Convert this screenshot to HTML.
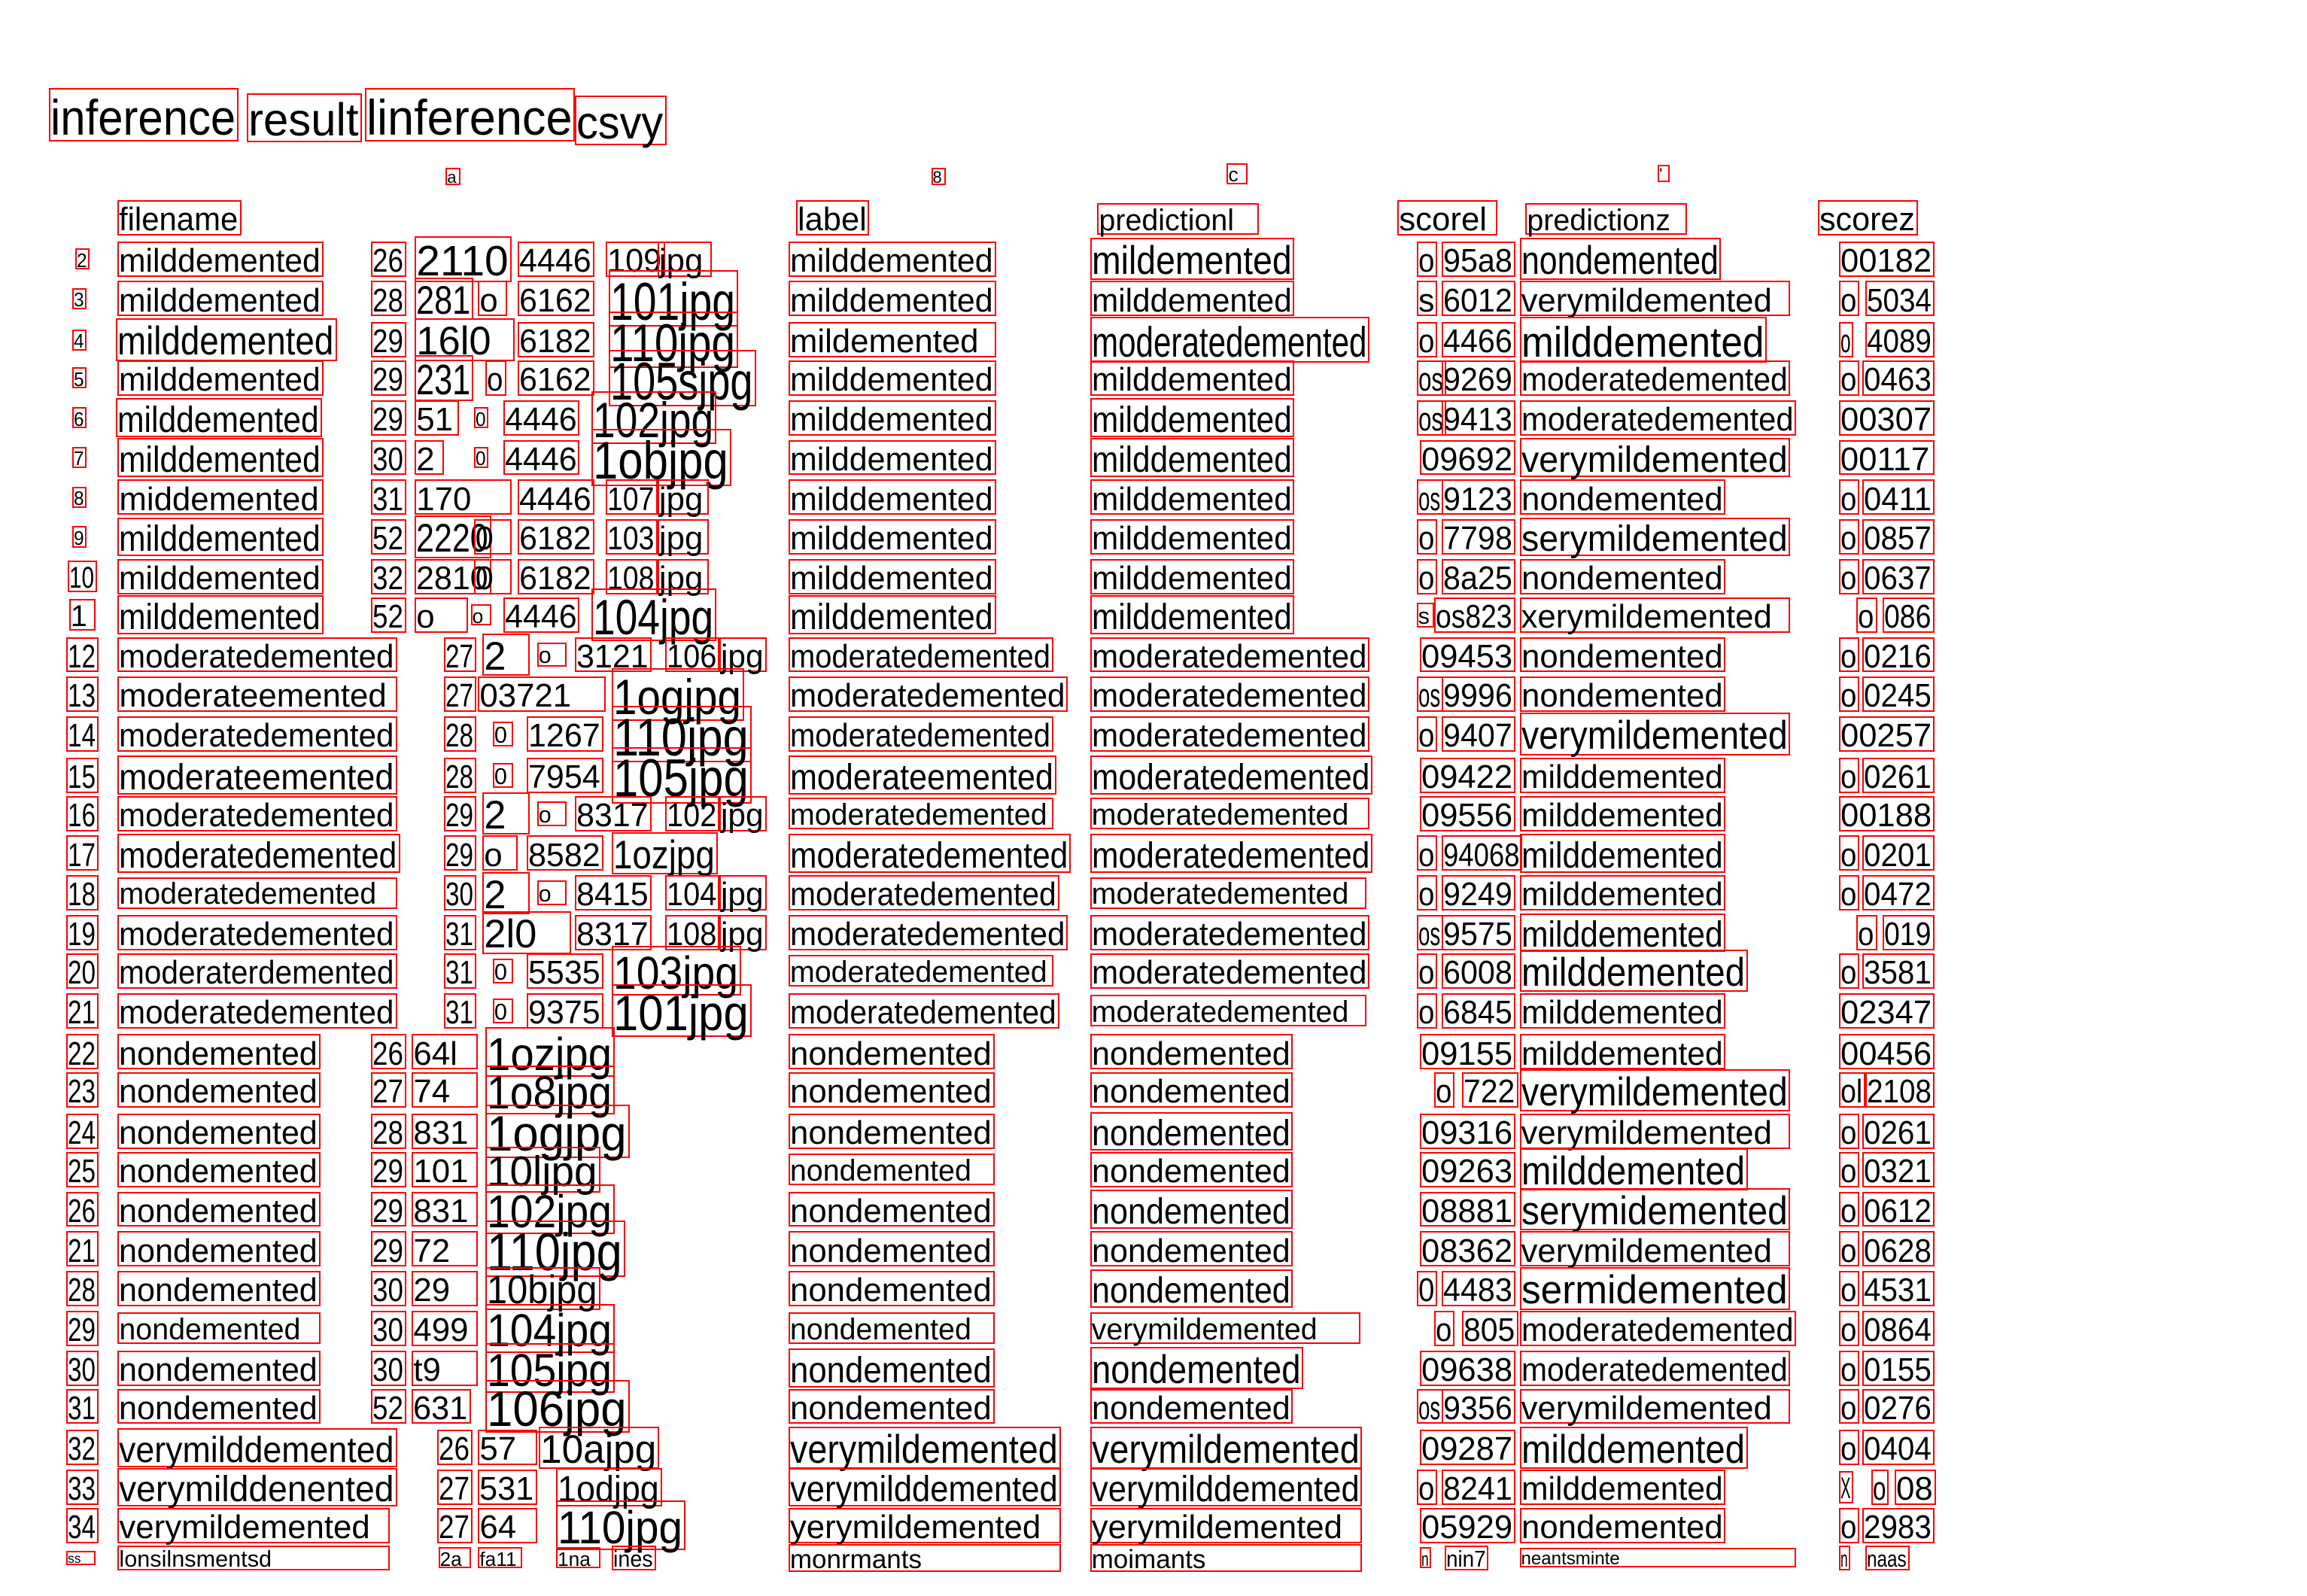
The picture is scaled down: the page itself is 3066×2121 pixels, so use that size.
<!DOCTYPE html>
<html><head><meta charset="utf-8">
<style>
html,body{margin:0;padding:0;background:#fff;}
body{width:3066px;height:2121px;position:relative;overflow:hidden;font-family:"Liberation Sans",sans-serif;}
.b{position:absolute;border:2px solid #ff0000;box-sizing:border-box;}
.t{position:absolute;white-space:nowrap;color:#000;transform-origin:0 0;line-height:1;}
</style></head>
<body>
<script>
const S = 1.955;
const header = [
 ["inference|33|129|30",78],["result|168|78|28",80],["linference|248|143|30",78],["csvy|391|62|28",82],
 ["a|303|10|10",120],["8|633|10|10",120],["c|834|14|12",118],["'|1127|8|10",118],
 ["filename|80|84|20",148],["label|541|50|20",148],["predictionl|746|110|18",149],["scorel|950|68|20",148],["predictionz|1037|110|18",149],["scorez|1236|68|20",148]
];
const rows = [
 [176,"2|51|10|12","milddemented|80|140","26|252|24","2110|282|66|26","4446|352|52","109|412|40","jpg|447|37","milddemented|536|141","mildemented|741|139|24","o|963|14","95a8|980|50","nondemented|1033|137|24","00182|1250|65"],
 [203,"3|49|10|12","milddemented|80|140","28|252|24","281|282|40|24","o|325|20","6162|352|52","101jpg|414|88|32","milddemented|536|141","milddemented|741|139","s|963|14","6012|980|50","verymildemented|1033|184","o|1250|14","5034|1268|47"],
 [231,"4|49|10|12","milddemented|79|150|24","29|252|24","16l0|282|68|24","6182|352|52","110jpg|414|88|32","mildemented|536|141","moderatedemented|741|190|26","o|963|14","4466|980|50","milddemented|1033|168|26","o|1250|10","4089|1268|47"],
 [257,"5|49|10|12","milddemented|80|140","29|252|24","231|282|40|26","o|330|14","6162|352|52","105sjpg|414|100|32","milddemented|536|141","milddemented|741|139","os|963|20","9269|980|50","moderatedemented|1033|184","o|1250|14","0463|1266|49"],
 [284,"6|49|10|12","milddemented|79|140|22","29|252|24","51|282|30","0|322|10|12","4446|342|52","102jpg|402|85|30","milddemented|536|141","milddemented|741|139|22","os|963|20","9413|980|50","moderatedemented|1033|188","00307|1250|65"],
 [311,"7|49|10|12","milddemented|80|140|22","30|252|24","2|282|20","0|322|10|12","4446|342|52","1objpg|402|95|32","milddemented|536|141","milddemented|741|139|22","09692|965|65","verymildemented|1033|184|22","00117|1250|65"],
 [338,"8|49|10|12","middemented|80|140","31|252|24","170|282|66","4446|352|52","107|412|35","jpg|447|35","milddemented|536|141","milddemented|741|139","os|963|18","9123|980|50","nondemented|1033|140","o|1250|14","0411|1266|49"],
 [365,"9|49|10|12","milddemented|80|140|22","52|252|24","2220|282|52|24","0|322|26","6182|352|52","103|412|35","jpg|447|35","milddemented|536|141","milddemented|741|139","o|963|14","7798|980|50","serymildemented|1033|184|22","o|1250|14","0857|1266|49"],
 [392,"10|46|20|18","milddemented|80|140","32|252|24","2810|282|52","0|322|26","6182|352|52","108|412|35","jpg|447|35","milddemented|536|141","milddemented|741|139","o|963|14","8a25|980|50","nondemented|1033|140","o|1250|14","0637|1266|49"],
 [418,"1|47|18|18","milddemented|80|140|22","52|252|24","o|282|36","o|320|14|12","4446|342|52","104jpg|402|85|30","milddemented|536|141|22","milddemented|741|139|22","s|963|12|14","os823|975|55","xerymildemented|1033|184","o|1262|14","086|1280|35"],
 [445,"12|45|22","moderatedemented|80|190","27|302|22","2|328|32|24","o|365|20|14","3121|391|52","106|452|37","jpg|489|32","moderatedemented|536|180","moderatedemented|741|190","09453|965|65","nondemented|1033|140","o|1250|14","0216|1266|49"],
 [472,"13|45|22","moderateemented|80|190","27|302|22","03721|325|87","1ogjpg|416|90|30","moderatedemented|536|190","moderatedemented|741|190","os|963|18","9996|980|50","nondemented|1033|140","o|1250|14","0245|1266|49"],
 [499,"14|45|22","moderatedemented|80|190","28|302|22","0|335|14|14","1267|358|52","110jpg|416|95|32","moderatedemented|536|180","moderatedemented|741|190","o|963|14","9407|980|50","verymildemented|1033|184|24","00257|1250|65"],
 [527,"15|45|22","moderateemented|80|190|22","28|302|22","0|335|14|14","7954|358|52","105jpg|416|95|32","moderateemented|536|182|22","moderatedemented|741|192|22","09422|965|65","milddemented|1033|140","o|1250|14","0261|1266|49"],
 [553,"16|45|22","moderatedemented|80|190","29|302|22","2|328|32|24","o|365|20|14","8317|391|52","102|452|37","jpg|489|32","moderatedemented|536|180|18","moderatedemented|741|190|18","09556|965|65","milddemented|1033|140","00188|1250|65"],
 [580,"17|45|22","moderatedemented|80|192|22","29|302|22","o|328|24","8582|358|52","1ozjpg|416|72|24","moderatedemented|536|192|22","moderatedemented|741|192|22","o|963|14","94068|980|55","milddemented|1033|140|22","o|1250|14","0201|1266|49"],
 [607,"18|45|22","moderatedemented|80|190|18","30|302|22","2|328|32|24","o|365|20|14","8415|391|52","104|452|37","jpg|489|32","moderatedemented|536|184|20","moderatedemented|741|188|18","o|963|14","9249|980|50","milddemented|1033|140","o|1250|14","0472|1266|49"],
 [634,"19|45|22","moderatedemented|80|190","31|302|22","2l0|328|60|24","8317|391|52","108|452|37","jpg|489|32","moderatedemented|536|190","moderatedemented|741|190","os|963|18","9575|980|50","milddemented|1033|140|22","o|1262|14","019|1280|35"],
 [660,"20|45|22","moderaterdemented|80|190","31|302|22","0|335|14|14","5535|358|52","103jpg|416|88|28","moderatedemented|536|180|18","moderatedemented|741|190","o|963|14","6008|980|50","milddemented|1033|155|24","o|1250|14","3581|1266|49"],
 [687,"21|45|22","moderatedemented|80|190","31|302|22","0|335|14|14","9375|358|52","101jpg|416|95|30","moderatedemented|536|184","moderatedemented|741|188|18","o|963|14","6845|980|50","milddemented|1033|140","02347|1250|65"],
 [715,"22|45|22","nondemented|80|138","26|252|24","64l|280|45","1ozjpg|330|88|28","nondemented|536|140","nondemented|741|138","09155|965|65","milddemented|1033|140","00456|1250|65"],
 [741,"23|45|22","nondemented|80|138","27|252|24","74|280|45","1o8jpg|330|88|28","nondemented|536|140","nondemented|741|138","o|975|14","722|994|38","verymildemented|1033|184|24","ol|1250|18","2108|1268|47"],
 [769,"24|45|22","nondemented|80|138","28|252|24","831|280|45","1ogjpg|330|98|30","nondemented|536|140","nondemented|741|138|22","09316|965|65","verymildemented|1033|184","o|1250|14","0261|1266|49"],
 [795,"25|45|22","nondemented|80|138","29|252|24","101|280|45","10ljpg|330|78|26","nondemented|536|140|18","nondemented|741|138","09263|965|65","milddemented|1033|155|24","o|1250|14","0321|1266|49"],
 [822,"26|45|22","nondemented|80|138","29|252|24","831|280|45","102jpg|330|88|28","nondemented|536|140","nondemented|741|138|22","08881|965|65","serymidemented|1033|184|24","o|1250|14","0612|1266|49"],
 [849,"21|45|22","nondemented|80|138","29|252|24","72|280|45","110jpg|330|95|32","nondemented|536|140","nondemented|741|138","08362|965|65","verymildemented|1033|184","o|1250|14","0628|1266|49"],
 [876,"28|45|22","nondemented|80|138","30|252|24","29|280|45","10bjpg|330|78|24","nondemented|536|140","nondemented|741|138|22","0|963|14","4483|980|50","sermidemented|1033|184|24","o|1250|14","4531|1266|49"],
 [903,"29|45|22","nondemented|80|138|18","30|252|24","499|280|45","104jpg|330|88|28","nondemented|536|140|18","verymildemented|741|184|18","o|975|14","805|994|38","moderatedemented|1033|188","o|1250|14","0864|1266|49"],
 [930,"30|45|22","nondemented|80|138","30|252|24","t9|280|45","105jpg|330|88|28","nondemented|536|140|22","nondemented|741|145|24","09638|965|65","moderatedemented|1033|184","o|1250|14","0155|1266|49"],
 [956,"31|45|22","nondemented|80|138","52|252|24","631|280|40","106jpg|330|98|30","nondemented|536|140","nondemented|741|138","os|963|18","9356|980|50","verymildemented|1033|184|20","o|1250|14","0276|1266|49"],
 [984,"32|45|22","verymilddemented|80|190|22","26|297|24","57|325|40","10ajpg|366|82|24","verymildemented|536|185|24","verymildemented|741|185|24","09287|965|65","milddemented|1033|155|24","o|1250|14","0404|1266|49"],
 [1011,"33|45|22","verymilddenented|80|190|22","27|297|24","531|325|40","1odjpg|378|72|22","verymilddemented|536|185|22","verymilddemented|741|185|22","o|963|14","8241|980|50","milddemented|1033|140","X|1250|10|18","o|1272|12","08|1288|28"],
 [1037,"34|45|22","verymildemented|80|185|20","27|297|24","64|325|40","110jpg|378|88|28","yerymildemented|536|185|20","yerymildemented|741|185|20","05929|965|65","nondemented|1033|140","o|1250|14","2983|1266|49"],
 [1059,"ss|45|20|8","lonsilnsmentsd|80|185|14","2a|298|22|12","fa11|325|30|12","1na|378|30|12","ines|416|30|14","monrmants|536|185|16","moimants|741|185|16","n|965|8|12","nin7|982|30|14","neantsminte|1033|188|11","n|1250|8|14","naas|1268|30|14"]
];
const body = document.body;
const ctx = document.createElement('canvas').getContext('2d');
function place(spec, cy){
  const p = spec.split('|');
  const text = p[0], x = +p[1], w = +p[2], fs = p[3] ? +p[3] : 20;
  const h = fs*1.2;
  const box = document.createElement('div');
  
  
  box.className = 'b';
  box.style.left = (x*S)+'px';
  box.style.top = ((cy-h/2)*S)+'px';
  box.style.width = (w*S)+'px';
  box.style.height = (h*S)+'px';
  body.appendChild(box);
  const t = document.createElement('div');
  
  
  t.className = 't';
  const fpx = fs*S*1.12;
  t.style.fontSize = fpx+'px';
  t.textContent = text;
  ctx.font = fpx+'px "Liberation Sans"';
  const mw = ctx.measureText(text).width || 1;
  let sx = (w*S-6)/mw;
  if (sx > 1.0) sx = 1.0;
  if (sx < 0.3) sx = 0.3;
  t.style.left = (x*S+2)+'px';
  t.style.top = ((cy-h/2)*S + (h*S - fpx)/2 + fpx*0.06)+'px';
  t.style.transform = 'scaleX('+sx+')';
  body.appendChild(t);
}
header.forEach(h => place(h[0], h[1]));
rows.forEach(r => { const cy = r[0]; r.slice(1).forEach(c => place(c, cy)); });
</script>
</body></html>
